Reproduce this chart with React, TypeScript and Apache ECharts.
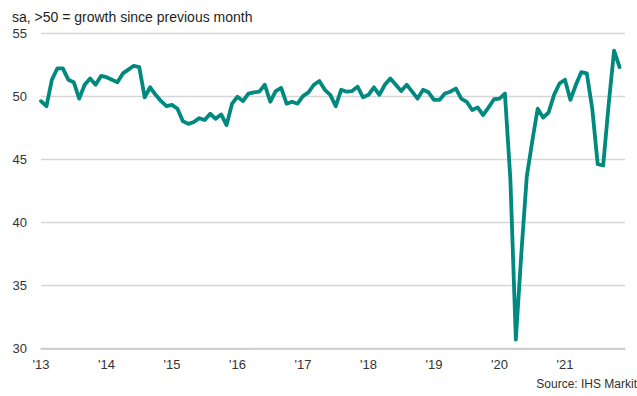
import React, { useEffect, useRef } from "react";
import * as echarts from "echarts";

const years = ["'13", "'14", "'15", "'16", "'17", "'18", "'19", "'20", "'21"];
const v2013 = [49.6, 49.2, 51.3, 52.2, 52.2, 51.3, 51.1, 49.8, 50.9, 51.4, 50.9, 51.6];
const v2014 = [51.5, 51.3, 51.1, 51.8, 52.1, 52.4, 52.3, 49.9, 50.7, 50.1, 49.6, 49.2];
const v2015 = [49.3, 49.0, 48.0, 47.8, 47.95, 48.25, 48.1, 48.6, 48.2, 48.55, 47.7, 49.4];
const v2016 = [49.95, 49.6, 50.2, 50.3, 50.35, 50.9, 49.55, 50.4, 50.65, 49.4, 49.55, 49.4];
const v2017 = [50.0, 50.3, 50.9, 51.2, 50.5, 50.1, 49.2, 50.5, 50.35, 50.4, 50.75, 49.9];
const v2018 = [50.1, 50.7, 50.1, 50.9, 51.4, 50.9, 50.4, 50.9, 50.35, 49.8, 50.5, 50.3];
const v2019 = [49.7, 49.7, 50.2, 50.35, 50.6, 49.8, 49.55, 48.9, 49.1, 48.5, 49.1, 49.75];
const v2020 = [49.8, 50.2, 43.4, 30.7, 37.5, 43.6, 46.4, 49.0, 48.3, 48.7, 50.1, 51.0];
const v2021 = [51.3, 49.7, 50.9, 51.9, 51.8, 49.0, 44.6, 44.5, 49.3, 53.6, 52.3, null];

const subtitle = "sa, >50 = growth since previous month";
const source = "Source: IHS Markit";

export default function App() {
  const ref = useRef<HTMLDivElement>(null);
  useEffect(() => {
    document.body.style.margin = "0";
    if (!ref.current) return;
    const chart = echarts.init(ref.current, null, { renderer: "svg" });
    const values = [
      ...v2013, ...v2014, ...v2015, ...v2016, ...v2017, ...v2018, ...v2019, ...v2020, ...v2021,
    ];
    const categories: string[] = [];
    years.forEach((y) => {
      for (let m = 0; m < 12; m++) categories.push(m === 0 ? y : y + "-" + (m + 1));
    });
    const font = "'Liberation Sans', Arial, sans-serif";
    chart.setOption({
      animation: false,
      backgroundColor: "#ffffff",
      graphic: [
        {
          type: "text",
          left: 12,
          top: 10,
          style: { text: subtitle, fontSize: 14, fill: "#1e1e1e", fontFamily: font },
        },
        {
          type: "text",
          right: 0,
          top: 378,
          style: { text: source, fontSize: 12, fill: "#303030", fontFamily: font },
        },
      ],
      grid: { left: 41, right: 12, top: 33, bottom: 47.5 },
      xAxis: {
        type: "category",
        data: categories,
        boundaryGap: false,
        axisTick: { show: false },
        axisLine: { show: true, lineStyle: { color: "#c8c8c8", width: 1.5 } },
        axisLabel: {
          interval: (idx: number) => idx % 12 === 0,
          formatter: (v: string) => (v.indexOf("-") >= 0 ? "" : v),
          fontSize: 13,
          color: "#333333",
          fontFamily: font,
          margin: 9,
        },
        splitLine: { show: false },
      },
      yAxis: {
        type: "value",
        min: 30,
        max: 55,
        interval: 5,
        axisLine: { show: false },
        axisTick: { show: false },
        axisLabel: { fontSize: 13, color: "#333333", fontFamily: font, margin: 14 },
        splitLine: { lineStyle: { color: "#d6d6d6", width: 1.3 } },
      },
      series: [
        {
          type: "line",
          data: values,
          showSymbol: false,
          symbol: "none",
          lineStyle: { color: "#00897e", width: 3.8, join: "round", cap: "round" },
          itemStyle: { color: "#00897e" },
        },
      ],
    });
    return () => chart.dispose();
  }, []);
  return <div ref={ref} style={{ width: 637, height: 396 }} />;
}
